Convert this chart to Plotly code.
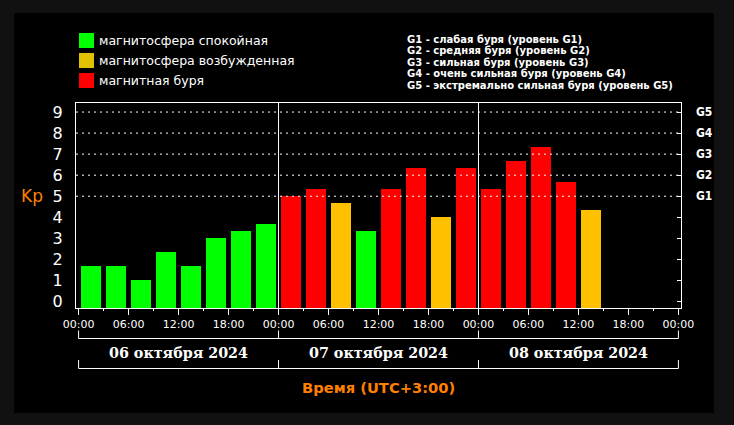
import plotly.graph_objects as go

# ---------------- data ----------------
KP_VALUES = [1.67, 1.67, 1.00, 2.33, 1.67, 3.00, 3.33, 3.67,
             5.00, 5.33, 4.67, 3.33, 5.33, 6.33, 4.00, 6.33,
             5.33, 6.67, 7.33, 5.67, 4.33]
SLOT_HOURS = [1.5, 4.5, 7.5, 10.5, 13.5, 16.5, 19.5, 22.5,
              25.5, 28.5, 31.5, 34.5, 37.5, 40.5, 43.5, 46.5,
              49.5, 52.5, 55.5, 58.5, 61.5]
TICK_HOURS = [0, 6, 12, 18, 24, 30, 36, 42, 48, 54, 60, 66, 72]
TICK_LABELS = ["00:00", "06:00", "12:00", "18:00",
               "00:00", "06:00", "12:00", "18:00",
               "00:00", "06:00", "12:00", "18:00", "00:00"]
MINOR_HOURS = [3, 9, 15, 21, 27, 33, 39, 45, 51, 57, 63, 69]
DAY_BOUNDS = [0, 24, 48, 72]
DAY_CENTERS = [12, 36, 60]
DAY_LABELS = ["06 октября 2024", "07 октября 2024", "08 октября 2024"]
KP_TICKS = [0, 1, 2, 3, 4, 5, 6, 7, 8, 9]
G_LEVELS = [5, 6, 7, 8, 9]
G_LABELS = ["G1", "G2", "G3", "G4", "G5"]
STATE_LABELS = ["магнитосфера спокойная", "магнитосфера возбужденная", "магнитная буря"]
G_DESCRIPTIONS = [
    "G1 - слабая буря (уровень G1)",
    "G2 - средняя буря (уровень G2)",
    "G3 - сильная буря (уровень G3)",
    "G4 - очень сильная буря (уровень G4)",
    "G5 - экстремально сильная буря (уровень G5)",
]

# ---------------- style ----------------
W, H = 734, 425
L, R, T, B = 76, 53, 103, 117
PW, PH = W - L - R, H - T - B
Y_MIN, Y_MAX = -0.31, 9.43
X_MIN, X_MAX = -0.31, 72.31
GREEN, YELLOW, RED = "#00ff00", "#ffc000", "#ff0000"
LEGEND_COLORS = ["#00ff00", "#e0c000", "#ff0000"]
ORANGE = "#ff8000"
WHITE = "#ffffff"


def xp(px):
    return (px - L) / PW


def yp(py):
    return (T + PH - py) / PH


def kp_color(v):
    if v < 4:
        return GREEN
    if v < 5:
        return YELLOW
    return RED


fig = go.Figure()
fig.add_trace(go.Bar(
    x=SLOT_HOURS,
    y=[v - Y_MIN for v in KP_VALUES],
    base=Y_MIN,
    width=2.4,
    marker=dict(color=[kp_color(v) for v in KP_VALUES], line=dict(width=0)),
    customdata=KP_VALUES,
    hovertemplate="Kp %{customdata}<extra></extra>",
    showlegend=False,
))
fig.add_trace(go.Scatter(x=[X_MIN], y=[Y_MIN], yaxis="y2", mode="markers",
                         marker=dict(opacity=0), hoverinfo="skip", showlegend=False))

shapes = []
# black panel on dark frame
shapes.append(dict(type="rect", xref="paper", yref="paper", layer="below",
                   x0=xp(14), x1=xp(714), y0=yp(413), y1=yp(13),
                   fillcolor="#000000", line=dict(width=0)))
# dotted grid at storm levels
for g in G_LEVELS:
    shapes.append(dict(type="line", xref="paper", yref="y", x0=0, x1=1, y0=g, y1=g,
                       line=dict(color=WHITE, width=1, dash="2px,4px"), layer="above"))
# day separators inside plot
for d in DAY_BOUNDS[1:-1]:
    shapes.append(dict(type="line", xref="x", yref="paper", x0=d, x1=d, y0=0, y1=1,
                       line=dict(color=WHITE, width=1), layer="above"))
# brackets below the axis
for (y_line, y_tick) in [(338.5, 330.5), (368.5, 360.0)]:
    shapes.append(dict(type="line", xref="x", yref="paper",
                       x0=DAY_BOUNDS[0], x1=DAY_BOUNDS[-1], y0=yp(y_line), y1=yp(y_line),
                       line=dict(color=WHITE, width=1)))
    for d in DAY_BOUNDS:
        shapes.append(dict(type="line", xref="x", yref="paper", x0=d, x1=d,
                           y0=yp(y_line), y1=yp(y_tick), line=dict(color=WHITE, width=1)))
# legend squares
for i, c in enumerate(LEGEND_COLORS):
    top = 33 + 20 * i
    shapes.append(dict(type="rect", xref="paper", yref="paper",
                       x0=xp(79), x1=xp(94), y0=yp(top + 15), y1=yp(top),
                       fillcolor=c, line=dict(width=0)))

annotations = []
for i, txt in enumerate(STATE_LABELS):
    annotations.append(dict(text=txt, xref="paper", yref="paper", x=xp(97), y=yp(40.5 + 20 * i),
                            xanchor="left", yanchor="middle", showarrow=False,
                            font=dict(family="DejaVu Sans", size=12.5, color=WHITE)))
for i, txt in enumerate(G_DESCRIPTIONS):
    annotations.append(dict(text="<b>" + txt + "</b>", xref="paper", yref="paper", x=xp(405),
                            y=yp(39.5 + 11.4 * i), xanchor="left", yanchor="middle",
                            showarrow=False,
                            font=dict(family="DejaVu Sans", size=10, color=WHITE)))
for xc, txt in zip(DAY_CENTERS, DAY_LABELS):
    annotations.append(dict(text="<b>" + txt + "</b>", xref="x", yref="paper", x=xc, y=yp(353),
                            xanchor="center", yanchor="middle", showarrow=False,
                            font=dict(family="DejaVu Serif", size=14.3, color=WHITE)))
annotations.append(dict(text="<b>Время (UTC+3:00)</b>", xref="x", yref="paper",
                        x=(DAY_BOUNDS[0] + DAY_BOUNDS[-1]) / 2, y=yp(387),
                        xanchor="center", yanchor="middle", showarrow=False,
                        font=dict(family="DejaVu Sans", size=14.7, color=ORANGE)))
annotations.append(dict(text="Kp", xref="paper", yref="y", x=xp(31.5), y=5,
                        xanchor="center", yanchor="middle", showarrow=False,
                        font=dict(family="DejaVu Sans", size=17, color=ORANGE)))

fig.update_layout(
    width=W, height=H,
    margin=dict(l=L, r=R, t=T, b=B, pad=0),
    paper_bgcolor="#111111",
    plot_bgcolor="#000000",
    bargap=0,
    shapes=shapes,
    annotations=annotations,
    xaxis=dict(range=[X_MIN, X_MAX], tickmode="array", tickvals=TICK_HOURS, ticktext=TICK_LABELS,
               ticks="outside", ticklen=6, tickcolor=WHITE, tickwidth=1,
               minor=dict(tickmode="array", tickvals=MINOR_HOURS, ticks="outside", ticklen=2,
                          tickcolor=WHITE, showgrid=False),
               showgrid=False, zeroline=False, showline=True, linecolor=WHITE, linewidth=1,
               mirror=True, tickfont=dict(family="DejaVu Sans", size=11, color=WHITE),
               fixedrange=True),
    yaxis=dict(range=[Y_MIN, Y_MAX], tickmode="array", tickvals=KP_TICKS,
               ticktext=[str(v) for v in KP_TICKS], ticks="", showgrid=False, zeroline=False,
               showline=True, linecolor=WHITE, linewidth=1, mirror=True,
               ticklabelstandoff=9,
               tickfont=dict(family="DejaVu Sans", size=16, color=WHITE), fixedrange=True),
    yaxis2=dict(range=[Y_MIN, Y_MAX], overlaying="y", side="right", tickmode="array",
                tickvals=KP_TICKS,
                ticktext=["" for v in KP_TICKS if v not in G_LEVELS] + ["<b>" + g + "</b>" for g in G_LABELS],
                ticks="inside", ticklen=4, tickcolor=WHITE, showgrid=False, zeroline=False,
                showline=False, ticklabelstandoff=14,
                tickfont=dict(family="DejaVu Sans Condensed, DejaVu Sans", size=12, color=WHITE),
                fixedrange=True),
)

fig.write_html("out.html", config={"displayModeBar": False},
               post_script="document.body.style.margin='0px';")
